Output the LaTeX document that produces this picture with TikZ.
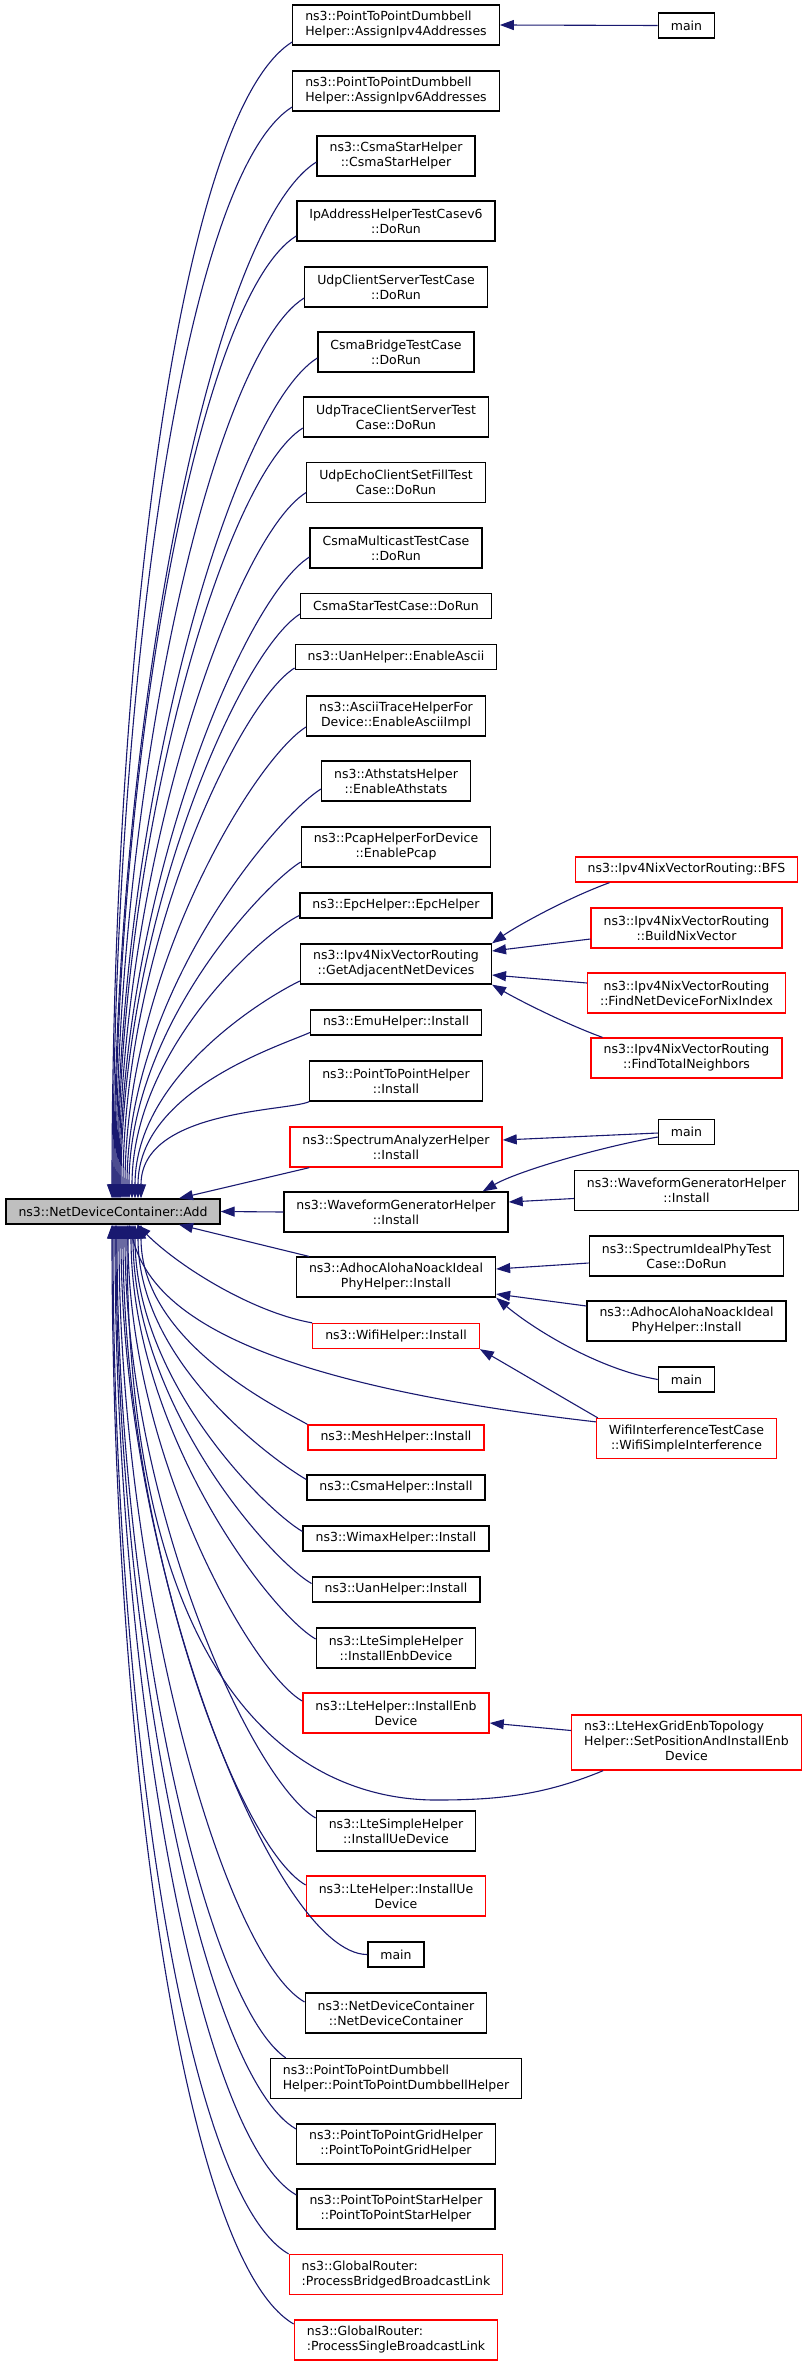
\documentclass[tikz,border=0pt]{standalone}
\usepackage{fontspec}
\setmainfont{DejaVu Sans}
\usepackage{tikz}
\usetikzlibrary{arrows.meta}
\usepackage{xcolor}
\definecolor{midnight}{HTML}{191970}

\begin{document}
\begin{tikzpicture}[x=1pt, y=1pt,
    box/.style={draw=black, line width=1.3pt, fill=white, align=center,
        font=\fontsize{12.5}{15}\selectfont, inner xsep=12.5pt, inner ysep=0pt,
        minimum height=25pt},
    dbl/.style={minimum height=40pt},
    trpl/.style={minimum height=55pt},
    trunc/.style={draw=red},
    rootbox/.style={fill=gray!50},
    call/.style={draw=midnight, line width=1.1pt, -{Triangle[length=14pt, width=10pt]}}]
    \useasboundingbox (0,0) rectangle (808,-2365);

    % The function itself
    \node[box, rootbox] (add) at (113,-1211.5) {ns3::NetDeviceContainer::Add};

    % Direct callers
    \node[box, dbl, align=left] (p2pv4) at (396,-25) {ns3::PointToPointDumbbell\\Helper::AssignIpv4Addresses};
    \node[box, dbl, align=left] (p2pv6) at (396,-91) {ns3::PointToPointDumbbell\\Helper::AssignIpv6Addresses};
    \node[box, dbl] (csmastar) at (396,-156) {ns3::CsmaStarHelper\\::CsmaStarHelper};
    \node[box, dbl] (iptest) at (396,-221) {IpAddressHelperTestCasev6\\::DoRun};
    \node[box, dbl] (udpcs) at (396,-287) {UdpClientServerTestCase\\::DoRun};
    \node[box, dbl] (csmabridge) at (396,-352) {CsmaBridgeTestCase\\::DoRun};
    \node[box, dbl] (udptrace) at (396,-417) {UdpTraceClientServerTest\\Case::DoRun};
    \node[box, dbl] (udpecho) at (396,-482.5) {UdpEchoClientSetFillTest\\Case::DoRun};
    \node[box, dbl] (csmamulti) at (396,-548) {CsmaMulticastTestCase\\::DoRun};
    \node[box] (csmastartest) at (396,-606) {CsmaStarTestCase::DoRun};
    \node[box] (uanascii) at (396,-657) {ns3::UanHelper::EnableAscii};
    \node[box, dbl] (asciitrace) at (396,-716) {ns3::AsciiTraceHelperFor\\Device::EnableAsciiImpl};
    \node[box, dbl] (athstats) at (396,-781) {ns3::AthstatsHelper\\::EnableAthstats};
    \node[box, dbl] (pcap) at (396,-847) {ns3::PcapHelperForDevice\\::EnablePcap};
    \node[box] (epc) at (396,-905.5) {ns3::EpcHelper::EpcHelper};
    \node[box, dbl] (adjacent) at (396,-964) {ns3::Ipv4NixVectorRouting\\::GetAdjacentNetDevices};
    \node[box] (emu) at (396,-1022.5) {ns3::EmuHelper::Install};
    \node[box, dbl] (p2p) at (396,-1081) {ns3::PointToPointHelper\\::Install};
    \node[box, dbl, trunc] (specan) at (396,-1147) {ns3::SpectrumAnalyzerHelper\\::Install};
    \node[box, dbl] (wavegen) at (396,-1212) {ns3::WaveformGeneratorHelper\\::Install};
    \node[box, dbl] (aloha) at (396,-1277) {ns3::AdhocAlohaNoackIdeal\\PhyHelper::Install};
    \node[box, trunc] (wifi) at (396,-1336) {ns3::WifiHelper::Install};
    \node[box, trunc] (mesh) at (396,-1437.5) {ns3::MeshHelper::Install};
    \node[box] (csma) at (396,-1487.5) {ns3::CsmaHelper::Install};
    \node[box] (wimax) at (396,-1538.5) {ns3::WimaxHelper::Install};
    \node[box] (uan) at (396,-1589.5) {ns3::UanHelper::Install};
    \node[box, dbl] (ltesenb) at (396,-1648) {ns3::LteSimpleHelper\\::InstallEnbDevice};
    \node[box, dbl, trunc] (lteenb) at (396,-1713) {ns3::LteHelper::InstallEnb\\Device};
    \node[box, dbl] (ltesue) at (396,-1831) {ns3::LteSimpleHelper\\::InstallUeDevice};
    \node[box, dbl, trunc] (lteue) at (396,-1896) {ns3::LteHelper::InstallUe\\Device};
    \node[box] (mainlow) at (396,-1954.5) {main};
    \node[box, dbl] (ndc) at (396,-2013) {ns3::NetDeviceContainer\\::NetDeviceContainer};
    \node[box, dbl, align=left] (dumbbell) at (396,-2078.5) {ns3::PointToPointDumbbell\\Helper::PointToPointDumbbellHelper};
    \node[box, dbl] (grid) at (396,-2144) {ns3::PointToPointGridHelper\\::PointToPointGridHelper};
    \node[box, dbl] (star) at (396,-2209) {ns3::PointToPointStarHelper\\::PointToPointStarHelper};
    \node[box, dbl, trunc, align=left] (bridged) at (396,-2274.5) {ns3::GlobalRouter:\\:ProcessBridgedBroadcastLink};
    \node[box, dbl, trunc, align=left] (single) at (396,-2340) {ns3::GlobalRouter:\\:ProcessSingleBroadcastLink};

    % Second level callers
    \node[box] (maintop) at (686.5,-25.5) {main};
    \node[box, trunc] (bfs) at (686.5,-869.5) {ns3::Ipv4NixVectorRouting::BFS};
    \node[box, dbl, trunc] (buildnix) at (686.5,-928) {ns3::Ipv4NixVectorRouting\\::BuildNixVector};
    \node[box, dbl, trunc] (findnet) at (686.5,-993) {ns3::Ipv4NixVectorRouting\\::FindNetDeviceForNixIndex};
    \node[box, dbl, trunc] (findtot) at (686.5,-1058) {ns3::Ipv4NixVectorRouting\\::FindTotalNeighbors};
    \node[box] (mainmid) at (686.5,-1132) {main};
    \node[box, dbl] (wavegentwo) at (686.5,-1190.5) {ns3::WaveformGeneratorHelper\\::Install};
    \node[box, dbl] (idealphy) at (686.5,-1256) {ns3::SpectrumIdealPhyTest\\Case::DoRun};
    \node[box, dbl] (alohatwo) at (686.5,-1321) {ns3::AdhocAlohaNoackIdeal\\PhyHelper::Install};
    \node[box] (mainlast) at (686.5,-1379.5) {main};
    \node[box, dbl, trunc] (wifiint) at (686.5,-1438.5) {WifiInterferenceTestCase\\::WifiSimpleInterference};
    \node[box, trpl, trunc] (hexgrid) at (686.5,-1742.5) {\begin{tabular}{@{}l@{}}ns3::LteHexGridEnbTopology\\Helper::SetPositionAndInstallEnb\\\multicolumn{1}{@{}c@{}}{Device}\end{tabular}};

    % Calls between the callers
    \draw[call] (maintop.west) -- (p2pv4.east);
    \draw[call] ([xshift=35pt]bfs.south west) .. controls +(200:45) and +(35:30) .. (adjacent.north east);
    \draw[call] ([yshift=-11pt]buildnix.west) -- ([yshift=13pt]adjacent.east);
    \draw[call] ([yshift=10pt]findnet.west) -- ([yshift=-11pt]adjacent.east);
    \draw[call] ([xshift=12pt]findtot.north west) .. controls +(160:40) and +(-30:30) .. (adjacent.south east);
    \draw[call] ([yshift=-1pt]mainmid.west) -- ([yshift=7pt]specan.east);
    \draw[call] ([yshift=-5pt]mainmid.west) .. controls +(190:60) and +(30:40) .. ([xshift=-26pt]wavegen.north east);
    \draw[call] ([yshift=-8pt]wavegentwo.west) -- ([yshift=10pt]wavegen.east);
    \draw[call] ([yshift=-7pt]idealphy.west) -- ([yshift=8pt]aloha.east);
    \draw[call] ([yshift=15pt]alohatwo.west) -- ([yshift=-17pt]aloha.east);
    \draw[call] (mainlast.west) .. controls +(170:60) and +(-40:50) .. (aloha.south east);
    \draw[call] ([xshift=2pt]wifiint.north west) .. controls +(150:40) and +(-30:40) .. (wifi.south east);
    \draw[call] ([yshift=12pt]hexgrid.west) -- ([yshift=-10pt]lteenb.east);

    % Calls into Add, from above
    \draw[call] ([yshift=-17pt]p2pv4.west) .. controls +(212:138) and +(90:527) .. ([xshift=-1pt]add.north);
    \draw[call] ([yshift=-16pt]p2pv6.west) .. controls +(212:130) and +(90:498) .. (add.north);
    \draw[call] ([yshift=-6pt]csmastar.west) .. controls +(212:124) and +(90:476) .. ([xshift=1pt]add.north);
    \draw[call] ([yshift=-15pt]iptest.west) .. controls +(212:115) and +(90:441) .. ([xshift=2pt]add.north);
    \draw[call] ([yshift=-11pt]udpcs.west) .. controls +(212:108) and +(90:414) .. ([xshift=3pt]add.north);
    \draw[call] ([yshift=-6pt]csmabridge.west) .. controls +(212:102) and +(90:389) .. ([xshift=4pt]add.north);
    \draw[call] ([yshift=-11pt]udptrace.west) .. controls +(212:93) and +(90:357) .. ([xshift=5pt]add.north);
    \draw[call] ([yshift=-10pt]udpecho.west) .. controls +(212:86) and +(90:329) .. ([xshift=6pt]add.north);
    \draw[call] ([yshift=-9pt]csmamulti.west) .. controls +(212:79) and +(90:302) .. ([xshift=7pt]add.north);
    \draw[call] ([yshift=-8pt]csmastartest.west) .. controls +(212:72) and +(90:275) .. ([xshift=8pt]add.north);
    \draw[call] ([yshift=-11pt]uanascii.west) .. controls +(212:66) and +(90:252) .. ([xshift=10pt]add.north);
    \draw[call] ([yshift=-11pt]asciitrace.west) .. controls +(212:60) and +(90:228) .. ([xshift=12pt]add.north);
    \draw[call] ([yshift=-8pt]athstats.west) .. controls +(212:53) and +(90:205) .. ([xshift=14pt]add.north);
    \draw[call] ([yshift=-15pt]pcap.west) .. controls +(212:45) and +(90:171) .. ([xshift=16pt]add.north);
    \draw[call] ([yshift=-10pt]epc.west) .. controls +(205:39) and +(90:149) .. ([xshift=19pt]add.north);
    \draw[call] ([yshift=-17pt]adjacent.west) .. controls +(205:32) and +(90:124) .. ([xshift=22pt]add.north);
    \draw[call] ([yshift=-10pt]emu.west) .. controls +(205:28) and +(90:109) .. ([xshift=25pt]add.north);
    \draw[call] (p2p.south west) .. controls +(205:23) and +(90:89) .. ([xshift=28pt]add.north);
    \draw[call] ([xshift=20pt]specan.south west) -- ([xshift=66pt]add.north);

    % Calls into Add, level and from below
    \draw[call] (wavegen.west) -- (add.east);
    \draw[call] ([xshift=13pt]aloha.north west) -- ([xshift=66pt]add.south);
    \draw[call] (wifi.north west) .. controls +(170:60) and +(-45:60) .. ([xshift=24pt]add.south);
    \draw[call] ([yshift=-4pt]wifiint.north west) .. controls +(-375,43) and +(20,-76) .. ([xshift=16pt]add.south);
    \draw[call] (mesh.north west) .. controls +(150:31) and +(-90:118) .. ([xshift=28pt]add.south);
    \draw[call] ([yshift=8pt]csma.west) .. controls +(150:36) and +(-90:139) .. ([xshift=25pt]add.south);
    \draw[call] ([yshift=7pt]wimax.west) .. controls +(150:41) and +(-90:158) .. ([xshift=22pt]add.south);
    \draw[call] ([yshift=6pt]uan.west) .. controls +(150:47) and +(-90:181) .. ([xshift=20pt]add.south);
    \draw[call] ([yshift=9pt]ltesenb.west) .. controls +(150:54) and +(-90:205) .. ([xshift=18pt]add.south);
    \draw[call] ([yshift=12pt]lteenb.west) .. controls +(150:60) and +(-90:229) .. ([xshift=15pt]add.south);
    \draw[call] ([xshift=32pt]hexgrid.south west) .. controls +(-60,-25) and +(60,0) .. (436,-1800)
        .. controls +(-130,0) and +(0,-476) .. ([xshift=14pt]add.south);
    \draw[call] ([yshift=13pt]ltesue.west) .. controls +(150:73) and +(-90:281) .. ([xshift=12pt]add.south);
    \draw[call] ([yshift=11pt]lteue.west) .. controls +(150:81) and +(-90:309) .. ([xshift=10pt]add.south);
    \draw[call] (mainlow.west) .. controls +(180:91) and +(-90:347) .. ([xshift=8pt]add.south);
    \draw[call] ([yshift=11pt]ndc.west) .. controls +(150:94) and +(-90:360) .. ([xshift=6pt]add.south);
    \draw[call] ([xshift=16pt]dumbbell.north west) .. controls +(145:100) and +(-90:383) .. ([xshift=4pt]add.south);
    \draw[call] ([yshift=15pt]grid.west) .. controls +(150:108) and +(-90:415) .. ([xshift=3pt]add.south);
    \draw[call] ([yshift=14pt]star.west) .. controls +(150:116) and +(-90:445) .. ([xshift=2pt]add.south);
    \draw[call] (bridged.north west) .. controls +(150:123) and +(-90:471) .. (add.south);
    \draw[call] ([yshift=16pt]single.west) .. controls +(150:131) and +(-90:502) .. ([xshift=-1pt]add.south);
\end{tikzpicture}
\end{document}
